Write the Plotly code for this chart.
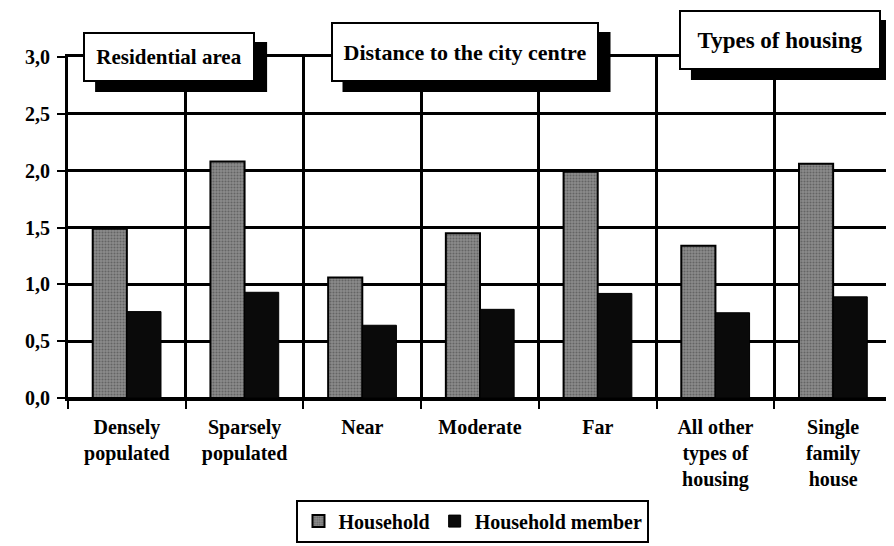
import plotly.graph_objects as go

categories = ["Densely<br>populated", "Sparsely<br>populated", "Near", "Moderate", "Far",
              "All other<br>types of<br>housing", "Single<br>family<br>house"]
household = [1.49, 2.08, 1.06, 1.45, 1.99, 1.34, 2.06]
household_member = [0.76, 0.93, 0.64, 0.78, 0.92, 0.75, 0.89]
series_names = ["Household", "Household member"]
y_ticks = [0.0, 0.5, 1.0, 1.5, 2.0, 2.5, 3.0]
group_titles = ["Residential area", "Distance to the city centre", "Types of housing"]

FONT = "Liberation Serif"

# The page body has an 8px default margin, so the figure is drawn 8px smaller.
W, H = 886, 538

fig = go.Figure()
fig.add_trace(go.Bar(
    x=categories, y=household, name=series_names[0],
    marker=dict(color="#808080", line=dict(color="black", width=2),
                pattern=dict(shape=".", fgcolor="#3c3c3c", bgcolor="#8c8c8c", size=3, solidity=0.4)),
))
fig.add_trace(go.Bar(
    x=categories, y=household_member, name=series_names[1],
    marker=dict(color="#0a0a0a", line=dict(color="black", width=1)),
))

# group title boxes with a drop shadow: x, y (paper), font size, box w, box h
title_layout = [(0.1227, 1.0, 21, 168, 46), (0.4812, 1.0147, 22, 264, 56), (0.864, 1.05, 23, 198, 56)]
SX, SY = 12, 10
for (px, py, fs, bw, bh), txt in zip(title_layout, group_titles):
    fig.add_shape(type="rect", xref="paper", yref="paper", xsizemode="pixel", ysizemode="pixel",
                  xanchor=px, yanchor=py,
                  x0=-bw / 2 - 2 + SX, x1=bw / 2 + 2 + SX, y0=-bh / 2 - 2 - SY, y1=bh / 2 + 2 - SY,
                  fillcolor="black", line=dict(width=0), layer="above")
    fig.add_annotation(x=px, y=py, xref="paper", yref="paper", text=txt, showarrow=False,
                       xanchor="center", yanchor="middle", align="center", valign="middle",
                       width=bw, height=bh,
                       font=dict(family=FONT, size=fs, color="black", weight="bold"),
                       bgcolor="white", bordercolor="black", borderwidth=2, borderpad=0)

fig.update_layout(
    width=W, height=H,
    margin=dict(l=60, r=2, t=49, b=148, autoexpand=False),
    paper_bgcolor="white", plot_bgcolor="white",
    separators=",.",
    barmode="group", bargap=0.42, bargroupgap=0,
    font=dict(family=FONT, size=19, color="black", weight="bold"),
    showlegend=True,
    legend=dict(orientation="h", x=0.4915, xanchor="center", y=-0.361, yanchor="middle",
                bordercolor="black", borderwidth=2, bgcolor="white",
                font=dict(family=FONT, size=20, color="black", weight="bold"),
                itemwidth=30, tracegroupgap=0),
    xaxis=dict(type="category", tickson="boundaries", showgrid=True, gridcolor="black", gridwidth=3,
               ticks="outside", ticklen=8, tickwidth=2, tickcolor="black", ticklabelstandoff=9,
               showline=True, linecolor="black", linewidth=3, mirror=True,
               tickfont=dict(family=FONT, size=20, color="black", weight="bold")),
    yaxis=dict(range=[0, 3.0], tickvals=y_ticks, tickformat=".1f",
               showgrid=True, gridcolor="black", gridwidth=3,
               zeroline=True, zerolinecolor="black", zerolinewidth=3,
               ticks="outside", ticklen=8, tickwidth=2, tickcolor="black", ticklabelstandoff=3,
               showline=True, linecolor="black", linewidth=3, mirror=True,
               tickfont=dict(family=FONT, size=20, color="black", weight="bold")),
)

fig.write_html("out.html")
